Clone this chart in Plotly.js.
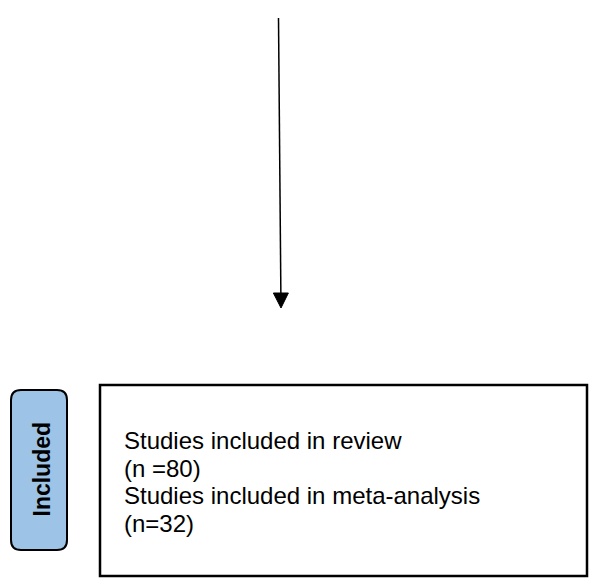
<!DOCTYPE html>
<html>
<head>
<meta charset="utf-8">
<script src="https://cdn.plot.ly/plotly-3.0.1.min.js"></script>
<style>html,body{margin:0;padding:0;background:#fff;}#chart{width:589px;height:585px;}</style>
</head>
<body>
<div id="chart"></div>
<script>
// Content of the flow-diagram fragment
const stageLabels = ["Included"];
const boxLines = ["Studies included in review", "(n =80)", "Studies included in meta-analysis", "(n=32)"];
const lineRows = [0, 1, 2, 3];

// Layout geometry (pixel-like coordinates on a 589x585 canvas)
const W = 589, H = 585;
const arrow = {x0: 278.5, y0: 18, x1: 281, y1: 308, headLen: 15, headHalf: 7.5};
const pill = {x0: 11, x1: 67, y0: 390, y1: 550, r: 10};
const box = {x0: 100, x1: 587, y0: 385, y1: 576};
const textX = 122, textY0 = 440.4, textDy = 27.65;

function roundRect(b) {
  const r = b.r;
  return `M ${b.x0 + r} ${b.y0} L ${b.x1 - r} ${b.y0} Q ${b.x1} ${b.y0} ${b.x1} ${b.y0 + r} ` +
         `L ${b.x1} ${b.y1 - r} Q ${b.x1} ${b.y1} ${b.x1 - r} ${b.y1} ` +
         `L ${b.x0 + r} ${b.y1} Q ${b.x0} ${b.y1} ${b.x0} ${b.y1 - r} ` +
         `L ${b.x0} ${b.y0 + r} Q ${b.x0} ${b.y0} ${b.x0 + r} ${b.y0} Z`;
}

const headBaseY = arrow.y1 - arrow.headLen;
const headBaseX = arrow.x0 + (arrow.x1 - arrow.x0) * (headBaseY - arrow.y0) / (arrow.y1 - arrow.y0);

const shapes = [
  {type: 'line', xref: 'x', yref: 'y', x0: arrow.x0, y0: arrow.y0, x1: headBaseX, y1: headBaseY + 1,
   line: {color: '#000', width: 1.5}},
  {type: 'path', xref: 'x', yref: 'y',
   path: `M ${headBaseX - arrow.headHalf} ${headBaseY} L ${headBaseX + arrow.headHalf} ${headBaseY} L ${arrow.x1} ${arrow.y1} Z`,
   fillcolor: '#000', line: {color: '#000', width: 1}},
  {type: 'path', xref: 'x', yref: 'y', path: roundRect(pill),
   fillcolor: '#9dc3e6', line: {color: '#000', width: 2}},
  {type: 'rect', xref: 'x', yref: 'y', x0: box.x0, y0: box.y0, x1: box.x1, y1: box.y1,
   fillcolor: 'rgba(0,0,0,0)', line: {color: '#000', width: 2.5}}
];

const annotations = [
  {xref: 'x', yref: 'y', x: 41, y: 469.5,
   text: stageLabels[0], textangle: -90, showarrow: false, xanchor: 'center', yanchor: 'middle',
   font: {family: 'Liberation Sans, Arial, sans-serif', size: 23, color: '#000', weight: 'bold'}}
].concat(lineRows.map(i => ({
  xref: 'x', yref: 'y', x: textX, y: textY0 + i * textDy, text: boxLines[i],
  showarrow: false, xanchor: 'left', yanchor: 'middle',
  font: {family: 'Liberation Sans, Arial, sans-serif', size: 24, color: '#000'}
})));

const layout = {
  width: W, height: H,
  margin: {l: 0, r: 0, t: 0, b: 0, pad: 0},
  paper_bgcolor: '#fff', plot_bgcolor: '#fff',
  xaxis: {range: [0, W], visible: false, fixedrange: true},
  yaxis: {range: [H, 0], visible: false, fixedrange: true},
  showlegend: false,
  shapes: shapes,
  annotations: annotations
};

Plotly.newPlot('chart', [], layout, {staticPlot: true, displayModeBar: false});
</script>
</body>
</html>
